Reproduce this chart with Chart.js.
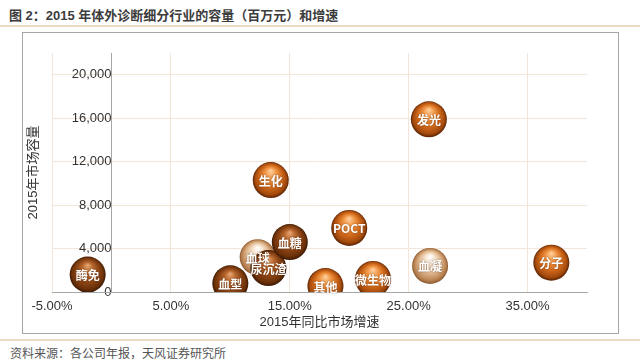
<!DOCTYPE html>
<html>
<head>
<meta charset="utf-8">
<script src="https://cdn.jsdelivr.net/npm/chart.js@4"></script>
<style>
body { margin: 0; background: #fff; width: 640px; height: 363px; position: relative; overflow: hidden;
       font-family: 'Liberation Sans', 'Noto Sans CJK SC', sans-serif; }
#title { position: absolute; left: 9px; top: 5px; font-size: 13px; font-weight: bold; color: #3c3c3c;
         font-family: 'Liberation Sans', 'Noto Sans CJK SC', sans-serif; }
.rule { position: absolute; left: 0; width: 640px; height: 2px; background: #ecd9c3; }
#box { position: absolute; left: 22px; top: 32px; width: 595px; height: 300px; border: 1px solid #a6a6a6; }
#source { position: absolute; left: 10px; top: 344px; font-size: 12px; color: #555;
          font-family: 'Noto Sans CJK SC', sans-serif; }
</style>
</head>
<body>
<div id="title">图 2：2015 年体外诊断细分行业的容量（百万元）和增速</div>
<div class="rule" style="top:25px"></div>
<div id="box"><canvas id="bubbleChart" width="595" height="300"></canvas></div>
<div class="rule" style="top:339px"></div>
<div id="source">资料来源：各公司年报，天风证券研究所</div>

<script>
// Segments, 2015 YoY growth (%) and market size (million CNY)
const segments = ['酶免', '血型', '血球', '尿沉渣', '血糖', '生化', 'POCT', '其他', '微生物', '发光', '血凝', '分子'];
const growth = [-2.0, 10.0, 12.3, 13.2, 15.0, 13.4, 20.0, 18.0, 22.0, 26.7, 26.8, 37.0];
const marketSize = [1600, 800, 3200, 2200, 4600, 10300, 5900, 550, 1200, 15900, 2400, 2700];
const xTicks = [-5, 5, 15, 25, 35];
const yTicks = [0, 4000, 8000, 12000, 16000, 20000];

const lightSegs = ['血球', '血凝'];
const brownSegs = ['酶免', '血型', '尿沉渣', '血糖'];

const tones = {
    orange: ['#ffd2a4', '#f39c4c', '#d26a1c', '#a2490c', '#5a2204'],
    brown:  ['#eaa876', '#ba6a30', '#8e4616', '#6a3008', '#3a1804'],
    light:  ['#ffffff', '#f7e4cf', '#dfb78e', '#b98252', '#8a5a30']
};

const R = 18;
const tickFont = { family: "'Liberation Sans', sans-serif", size: 13 };
const titleFont = { family: "'Liberation Sans', 'Noto Sans CJK SC', sans-serif", size: 13 };

function sphere(c) {
    if (c.type !== 'data') return '#d26a1c';
    const chart = c.chart;
    const i = c.dataIndex;
    const name = segments[i];
    const stops = lightSegs.includes(name) ? tones.light : brownSegs.includes(name) ? tones.brown : tones.orange;
    if (!chart.scales.x || !chart.scales.y) return stops[2];
    const x = chart.scales.x.getPixelForValue(growth[i]);
    const y = chart.scales.y.getPixelForValue(marketSize[i]);
    if (!isFinite(x) || !isFinite(y)) return stops[2];
    const g = chart.ctx.createRadialGradient(x, y - R * 0.55, 0, x, y, R);
    g.addColorStop(0, stops[0]);
    g.addColorStop(0.28, stops[1]);
    g.addColorStop(0.62, stops[2]);
    g.addColorStop(0.88, stops[3]);
    g.addColorStop(1, stops[4]);
    return g;
}

// white names on top of the bubbles
const labelPlugin = {
    id: 'bubbleLabels',
    afterDatasetsDraw(chart) {
        const ctx = chart.ctx;
        const meta = chart.getDatasetMeta(0);
        ctx.save();
        ctx.font = "bold 12px 'Noto Sans CJK SC', sans-serif";
        ctx.fillStyle = '#ffffff';
        ctx.textAlign = 'center';
        ctx.textBaseline = 'middle';
        ctx.shadowColor = 'rgba(60,25,0,0.6)';
        ctx.shadowBlur = 2;
        meta.data.forEach((el, i) => ctx.fillText(segments[i], el.x, el.y + 1));
        ctx.restore();
    }
};

new Chart(document.getElementById('bubbleChart').getContext('2d'), {
    type: 'bubble',
    data: {
        datasets: [{
            label: '2015',
            data: growth.map((g, i) => ({ x: g, y: marketSize[i] })),
            backgroundColor: sphere,
            borderWidth: 0,
            radius: R,
            clip: 0,
            yAxisID: 'y'
        }]
    },
    options: {
        responsive: false,
        animation: false,
        events: [],
        layout: { padding: { left: 0, right: 31, top: 20, bottom: 0 } },
        plugins: { legend: { display: false }, tooltip: { enabled: false } },
        scales: {
            y: {
                type: 'linear',
                position: { x: 0 },
                min: 0,
                max: 22000,
                afterBuildTicks: s => { s.ticks = yTicks.map(v => ({ value: v })); },
                ticks: {
                    padding: 10,
                    color: '#333',
                    font: tickFont,
                    callback: v => v.toLocaleString('en-US')
                },
                grid: { color: '#f3e6d8', drawTicks: false },
                border: { color: '#a6a6a6' }
            },
            yt: {
                type: 'linear',
                position: 'left',
                ticks: { display: false },
                grid: { display: false },
                border: { display: false },
                title: { display: true, text: '2015年市场容量', color: '#333', font: titleFont, padding: { top: 3, bottom: 0 } },
                afterFit: s => { s.width = 29; }
            },
            x: {
                type: 'linear',
                position: 'bottom',
                min: -5,
                max: 40,
                afterBuildTicks: s => { s.ticks = xTicks.map(v => ({ value: v })); },
                ticks: {
                    padding: 7,
                    color: '#333',
                    font: tickFont,
                    callback: v => v.toFixed(2) + '%'
                },
                grid: { color: '#f3e6d8', drawTicks: false },
                border: { color: '#a6a6a6' },
                title: { display: true, text: '2015年同比市场增速', color: '#333', font: titleFont, padding: { top: 0, bottom: 3 } },
                afterFit: s => { s.height = 41; }
            }
        }
    },
    plugins: [labelPlugin]
});
</script>
</body>
</html>
